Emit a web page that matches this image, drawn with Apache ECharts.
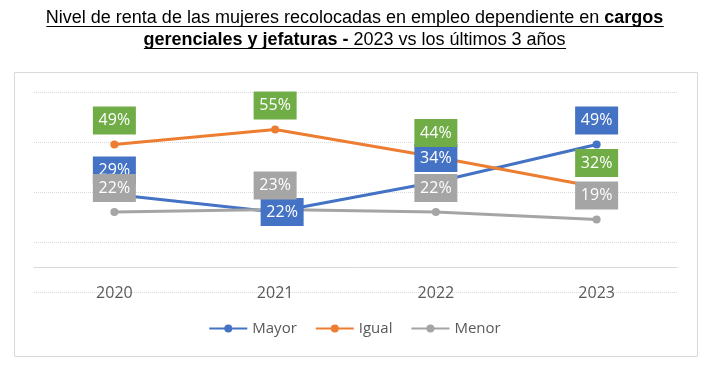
<!DOCTYPE html>
<html><head><meta charset="utf-8">
<script src="https://cdn.jsdelivr.net/npm/echarts@6/dist/echarts.min.js"></script>
<style>html,body{margin:0;padding:0;background:#fff}#c{width:709px;height:379px}</style>
</head><body><div id="c"></div>
<script>
const categories = ['2020', '2021', '2022', '2023'];
const mayor = [29, 22, 34, 49];
const igual = [49, 55, 44, 32];
const menor = [22, 23, 22, 19];
const seriesNames = ['Mayor', 'Igual', 'Menor'];
const title1Regular = 'Nivel de renta de las mujeres recolocadas en empleo dependiente en ';
const title1Bold = 'cargos';
const title2Bold = 'gerenciales y jefaturas -';
const title2Regular = ' 2023 vs los últimos 3 años';

const BLUE = '#4472C4', ORANGE = '#ED7D31', GRAY = '#A5A5A5', GREEN = '#70AD47';
const TFONT = '"Liberation Sans", Arial, sans-serif';
const LFONT = '"Open Sans", sans-serif';

function measure(text, font) {
  const c = document.createElement('canvas').getContext('2d');
  c.font = font;
  return c.measureText(text).width;
}
const w1 = measure(title1Regular, '18px ' + TFONT) + measure(title1Bold, 'bold 18px ' + TFONT);
const w2 = measure(title2Bold, 'bold 18px ' + TFONT) + measure(title2Regular, '18px ' + TFONT);
const cx = 355;

function labelStyle(bg) {
  return {
    show: true, position: 'top', distance: 6,
    formatter: '{c}%', color: '#fff', backgroundColor: bg,
    fontFamily: LFONT, fontSize: 16, width: 43, height: 28, lineHeight: 28,
    align: 'center', padding: 0
  };
}

function mkSeries(name, data, color, labelBg, overrides) {
  return {
    name: name, type: 'line', data: data.map((v, i) => (overrides && overrides[i]) ? Object.assign({ value: v }, overrides[i]) : v),
    symbol: 'circle', symbolSize: 8,
    itemStyle: { color: color },
    lineStyle: { color: color, width: 3 },
    label: labelStyle(labelBg),
    emphasis: { disabled: true },
    animation: false
  };
}

const chart = echarts.init(document.getElementById('c'), null, { renderer: 'canvas' });
chart.setOption({
  animation: false,
  title: {
    text: '{r|' + title1Regular + '}{b|' + title1Bold + '}\n{b|' + title2Bold + '}{r|' + title2Regular + '}',
    left: 'center', top: 7, padding: 0,
    textStyle: {
      fontWeight: 'normal',
      rich: {
        r: { fontFamily: TFONT, fontSize: 18, fontWeight: 'normal', color: '#000', lineHeight: 22 },
        b: { fontFamily: TFONT, fontSize: 18, fontWeight: 'bold', color: '#000', lineHeight: 22 }
      }
    }
  },
  graphic: [
    { type: 'rect', shape: { x: 14.5, y: 72.5, width: 683, height: 284 }, style: { fill: 'none', stroke: '#d9d9d9', lineWidth: 1 }, z: -10 },
    { type: 'line', shape: { x1: cx - w1 / 2, y1: 26.5, x2: cx + w1 / 2, y2: 26.5 }, style: { stroke: '#000', lineWidth: 1 } },
    { type: 'line', shape: { x1: cx - w2 / 2, y1: 48.5, x2: cx + w2 / 2, y2: 48.5 }, style: { stroke: '#000', lineWidth: 1 } }
  ],
  legend: {
    data: seriesNames, left: 'center', top: 316,
    itemWidth: 38, itemHeight: 10, itemGap: 18,
    textStyle: { fontFamily: LFONT, fontSize: 15, color: '#595959' }
  },
  grid: { left: 34, right: 32, top: 92, bottom: 87 },
  xAxis: {
    type: 'category', data: categories,
    axisLine: { onZero: true, lineStyle: { color: '#d9d9d9', width: 1 } },
    axisTick: { show: false },
    axisLabel: { margin: -7, fontFamily: LFONT, fontSize: 16, color: '#595959' }
  },
  yAxis: {
    type: 'value', min: -10, max: 70, interval: 20,
    axisLabel: { show: false }, axisLine: { show: false }, axisTick: { show: false },
    splitLine: { show: true, lineStyle: { color: '#d9d9d9', type: 'dotted', width: 1 } }
  },
  series: [
    mkSeries('Mayor', mayor, BLUE, BLUE, { 1: { label: { position: 'inside', offset: [7, 0] } } }),
    mkSeries('Igual', igual, ORANGE, GREEN),
    mkSeries('Menor', menor, GRAY, GRAY)
  ]
});
</script></body></html>
